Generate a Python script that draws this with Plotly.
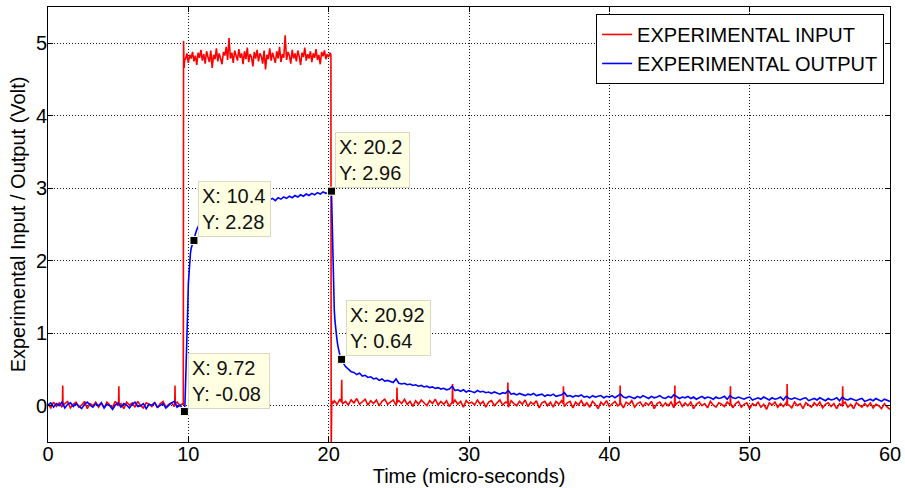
import numpy as np
import plotly.graph_objects as go

# ---------------- data ----------------

# EXPERIMENTAL INPUT (red)
in_low1_start, in_low1_step = 0.0, 0.2
in_low1 = [0.02, -0.03, 0.05, -0.01, 0.04, -0.02, 0.03, 0.06, -0.03, 0.02,
           0.05, -0.02, 0.01, 0.06, -0.04, 0.03, 0.00, 0.05, -0.02, 0.04,
           -0.03, 0.05, 0.01, -0.02, 0.06, 0.00, 0.03, -0.04, 0.05, 0.01,
           0.04, -0.02, 0.06, 0.00, -0.03, 0.04, 0.02, -0.01, 0.05, -0.03,
           0.03, 0.06, -0.02, 0.02, 0.04, -0.01, 0.05, 0.00, 0.03]
in_rise_t = [9.64, 9.66, 9.70, 9.74]
in_rise_v = [0.01, 5.03, 4.66, 4.78]
in_high_start, in_high_step = 9.8, 0.1
in_high = [4.78, 4.86, 4.73, 4.84, 4.79, 4.88, 4.75, 4.83, 4.70, 4.87,
           4.80, 4.91, 4.76, 4.85, 4.72, 4.89, 4.81, 4.74, 4.90, 4.66,
           4.84, 4.78, 4.93, 4.75, 4.86, 4.80, 4.71, 4.88, 4.83, 4.95,
           4.77, 5.07, 4.79, 4.87, 4.73, 4.90, 4.82, 4.76, 4.92, 4.80,
           4.86, 4.71, 4.89, 4.78, 4.94, 4.74, 4.85, 4.81, 4.68, 4.88,
           4.79, 4.91, 4.75, 4.86, 4.82, 4.72, 4.90, 4.64, 4.84, 4.78,
           4.93, 4.76, 4.87, 4.81, 4.73, 4.89, 4.79, 4.95, 4.74, 4.85,
           4.80, 5.11, 4.77, 4.88, 4.83, 4.72, 4.91, 4.79, 4.86, 4.75,
           4.90, 4.82, 4.70, 4.87, 4.81, 4.94, 4.76, 4.85, 4.79, 4.89,
           4.74, 4.86, 4.80, 4.92, 4.77, 4.84, 4.71, 4.88, 4.82, 4.90,
           4.78, 4.85, 4.81, 4.87]
in_fall_t = [20.16, 20.18, 20.22, 20.3]
in_fall_v = [4.84, -0.6, 0.07, 0.03]
in_low2_start, in_low2_step = 20.4, 0.2
in_low2 = [0.07, 0.02, 0.09, 0.03, 0.06, 0.01, 0.08, 0.04, 0.10, 0.02,
           0.06, 0.09, 0.01, 0.07, 0.03, 0.08, 0.00, 0.06, 0.09, 0.02,
           0.05, 0.08, 0.01, 0.07, 0.03, 0.09, 0.02, 0.06, -0.01, 0.07,
           0.02, 0.08, 0.04, 0.00, 0.07, 0.03, 0.09, 0.01, 0.06, 0.02,
           0.07, -0.01, 0.05, 0.08, 0.02, 0.06, -0.02, 0.07, 0.03, 0.05,
           0.01, 0.08, 0.02, 0.06, -0.02, 0.05, 0.07, 0.00, 0.04, 0.08,
           0.01, 0.05, -0.02, 0.07, 0.03, 0.00, 0.06, 0.02, 0.08, -0.01,
           0.05, 0.02, 0.07, -0.03, 0.04, 0.06, 0.00, 0.05, -0.02, 0.06,
           0.02, 0.07, -0.01, 0.04, 0.06, -0.03, 0.05, 0.01, 0.07, 0.00,
           0.04, -0.02, 0.06, 0.02, -0.04, 0.05, 0.01, 0.07, -0.01, 0.03,
           0.06, 0.00, 0.04, -0.03, 0.05, 0.02, 0.07, -0.02, 0.03, 0.05,
           -0.01, 0.04, 0.01, 0.06, -0.04, 0.03, 0.05, -0.01, 0.04, 0.00,
           0.05, -0.03, 0.03, 0.06, -0.01, 0.04, 0.00, 0.05, -0.04, 0.02,
           0.05, 0.00, 0.03, -0.03, 0.06, 0.01, -0.02, 0.04, 0.02, -0.01,
           0.05, 0.01, -0.03, 0.03, 0.06, -0.02, 0.02, 0.04, -0.04, 0.03,
           0.00, 0.05, -0.02, 0.02, -0.05, 0.04, 0.01, 0.05, -0.02, 0.03,
           -0.01, 0.04, 0.01, -0.03, 0.05, 0.00, 0.03, -0.04, 0.04, 0.01,
           -0.02, 0.04, 0.00, 0.05, -0.03, 0.02, 0.04, -0.01, 0.03, -0.04,
           0.03, 0.00, 0.05, -0.02, 0.02, -0.04, 0.04, 0.01, -0.02, 0.03,
           -0.01, 0.04, -0.03, 0.02, 0.00, -0.04, 0.03, -0.02, -0.05]
# narrow glitches on the input (time, value)
in_spike_t = [1.03, 1.05, 1.07, 5.03, 5.05, 5.07, 9.03, 9.05, 9.07,
              20.91, 20.93, 20.95, 24.85, 24.87, 24.89, 28.81, 28.83, 28.85,
              32.75, 32.77, 32.79, 36.71, 36.73, 36.75, 40.75, 40.77, 40.79,
              44.65, 44.67, 44.69, 48.61, 48.63, 48.65, 52.65, 52.67, 52.69,
              56.61, 56.63, 56.65]
in_spike_v = [0.02, 0.28, 0.01, 0.03, 0.27, 0.00, 0.02, 0.28, 0.03,
              0.05, 0.36, 0.06, 0.04, 0.25, 0.05, 0.05, 0.30, 0.03,
              0.04, 0.32, 0.02, 0.03, 0.27, 0.04, 0.02, 0.28, 0.03,
              0.03, 0.28, 0.01, 0.02, 0.27, 0.03, 0.02, 0.30, 0.01,
              0.01, 0.27, 0.02]

# EXPERIMENTAL OUTPUT (blue)
out_low1_start, out_low1_step = 0.0, 0.2
out_low1 = [0.01, 0.04, -0.02, 0.03, 0.00, 0.05, -0.03, 0.02, 0.04, -0.01,
            0.03, 0.00, -0.04, 0.02, 0.05, 0.01, -0.02, 0.03, 0.00, 0.04,
            -0.03, 0.02, 0.00, -0.05, 0.01, 0.04, -0.02, 0.03, 0.01, -0.03,
            0.02, 0.05, -0.01, 0.00, 0.03, -0.04, 0.02, 0.01, 0.04, -0.02,
            0.00, 0.03, -0.03, 0.01, 0.04, 0.06, -0.02, 0.01, -0.04]
out_rise_t = [9.68, 9.72, 9.76, 9.8, 9.84, 9.88, 9.92, 9.96, 10.0, 10.05,
              10.1, 10.15, 10.2, 10.3, 10.4, 10.5, 10.6, 10.7, 10.8]
out_rise_v = [-0.03, -0.08, 0.02, 0.25, 0.45, 0.62, 0.95, 1.35, 1.68, 1.88,
              2.01, 2.10, 2.17, 2.24, 2.28, 2.36, 2.43, 2.47, 2.50]
out_high_start, out_high_step = 11.0, 0.2
out_high = [2.53, 2.56, 2.55, 2.60, 2.58, 2.63, 2.61, 2.66, 2.64, 2.68,
            2.70, 2.68, 2.73, 2.71, 2.75, 2.74, 2.77, 2.75, 2.79, 2.77,
            2.81, 2.79, 2.83, 2.81, 2.84, 2.86, 2.83, 2.87, 2.85, 2.88,
            2.86, 2.89, 2.87, 2.90, 2.88, 2.91, 2.89, 2.92, 2.90, 2.93,
            2.91, 2.94, 2.92, 2.95, 2.93, 2.94]
out_fall_t = [20.1, 20.2, 20.24, 20.28, 20.32, 20.36, 20.4, 20.45, 20.5, 20.58,
              20.66, 20.74, 20.82, 20.92, 21.0, 21.1, 21.2, 21.3]
out_fall_v = [2.94, 2.96, 2.55, 2.05, 1.78, 1.52, 1.32, 1.17, 1.05, 0.93,
              0.82, 0.74, 0.68, 0.64, 0.60, 0.57, 0.54, 0.52]
out_low2_start, out_low2_step = 21.4, 0.2
out_low2 = [0.50, 0.47, 0.46, 0.43, 0.45, 0.41, 0.42, 0.39, 0.40, 0.37,
            0.38, 0.35, 0.37, 0.34, 0.35, 0.33, 0.32, 0.37, 0.31, 0.30,
            0.31, 0.29, 0.30, 0.28, 0.29, 0.27, 0.28, 0.26, 0.27, 0.25,
            0.26, 0.24, 0.25, 0.23, 0.24, 0.22, 0.23, 0.27, 0.21, 0.22,
            0.20, 0.22, 0.19, 0.21, 0.20, 0.18, 0.21, 0.19, 0.20, 0.18,
            0.19, 0.17, 0.19, 0.18, 0.16, 0.18, 0.17, 0.21, 0.16, 0.17,
            0.15, 0.17, 0.16, 0.14, 0.16, 0.15, 0.17, 0.14, 0.15, 0.16,
            0.13, 0.15, 0.14, 0.16, 0.13, 0.14, 0.15, 0.18, 0.13, 0.14,
            0.12, 0.14, 0.13, 0.15, 0.12, 0.13, 0.11, 0.14, 0.12, 0.13,
            0.14, 0.11, 0.13, 0.12, 0.14, 0.11, 0.13, 0.16, 0.12, 0.11,
            0.13, 0.12, 0.10, 0.13, 0.11, 0.14, 0.12, 0.10, 0.13, 0.11,
            0.12, 0.14, 0.11, 0.10, 0.13, 0.11, 0.15, 0.12, 0.10, 0.12,
            0.11, 0.13, 0.10, 0.12, 0.09, 0.11, 0.13, 0.10, 0.12, 0.11,
            0.09, 0.12, 0.10, 0.11, 0.13, 0.09, 0.14, 0.11, 0.10, 0.12,
            0.10, 0.09, 0.11, 0.12, 0.08, 0.10, 0.11, 0.09, 0.12, 0.10,
            0.08, 0.11, 0.09, 0.10, 0.12, 0.08, 0.13, 0.10, 0.09, 0.11,
            0.09, 0.08, 0.10, 0.11, 0.07, 0.09, 0.10, 0.08, 0.11, 0.09,
            0.07, 0.10, 0.08, 0.09, 0.11, 0.07, 0.12, 0.09, 0.08, 0.10,
            0.08, 0.07, 0.09, 0.10, 0.06, 0.08, 0.09, 0.07, 0.10, 0.08,
            0.06, 0.09, 0.07, 0.06]

# data tips
tip_x = [9.72, 10.4, 20.2, 20.92]
tip_y = [-0.08, 2.28, 2.96, 0.64]

x_ticks = [0, 10, 20, 30, 40, 50, 60]
y_ticks = [0, 1, 2, 3, 4, 5]
series_names = ["EXPERIMENTAL INPUT", "EXPERIMENTAL OUTPUT"]


def seg(start, step, vals):
    return list(np.round(start + step * np.arange(len(vals)), 3))


def merged(ts, vs):
    ts = np.asarray(ts, float)
    vs = np.asarray(vs, float)
    order = np.argsort(ts, kind="stable")
    return ts[order], vs[order]


in_t, in_v = merged(
    seg(in_low1_start, in_low1_step, in_low1) + in_rise_t
    + seg(in_high_start, in_high_step, in_high) + in_fall_t
    + seg(in_low2_start, in_low2_step, in_low2) + in_spike_t,
    in_low1 + in_rise_v + in_high + in_fall_v + in_low2 + in_spike_v)
out_t, out_v = merged(
    seg(out_low1_start, out_low1_step, out_low1) + out_rise_t
    + seg(out_high_start, out_high_step, out_high) + out_fall_t
    + seg(out_low2_start, out_low2_step, out_low2),
    out_low1 + out_rise_v + out_high + out_fall_v + out_low2)

FONT = "Arial, 'Liberation Sans', sans-serif"

fig = go.Figure()
fig.add_trace(go.Scatter(x=in_t, y=in_v, mode="lines", name=series_names[0],
                         line=dict(color="#FF0000", width=1.6)))
fig.add_trace(go.Scatter(x=out_t, y=out_v, mode="lines", name=series_names[1],
                         line=dict(color="#0000FF", width=1.6)))
fig.add_trace(go.Scatter(x=tip_x, y=tip_y, mode="markers", showlegend=False,
                         marker=dict(symbol="square", size=8, color="black",
                                     line=dict(color="#FFFFE1", width=1))))

box_w = [74, 65, 67, 77]
for x, y, w in zip(tip_x, tip_y, box_w):
    fig.add_annotation(x=x, y=y, xref="x", yref="y", showarrow=False,
                       text=f"X: {x:g}<br>Y: {y:g}", align="left",
                       xanchor="left", yanchor="bottom", xshift=4, yshift=3,
                       width=w,
                       font=dict(family=FONT, size=20, color="#111"),
                       bgcolor="#FFFFE1", bordercolor="#D9D9C6", borderwidth=1,
                       borderpad=3)

axis_common = dict(showline=True, linecolor="black", linewidth=1, mirror="ticks",
                   ticks="inside", ticklen=5, tickcolor="black", tickwidth=1,
                   showgrid=True, gridcolor="#1a1a1a", gridwidth=1, griddash="1px,2px",
                   zeroline=False, tickfont=dict(family=FONT, size=20, color="black"),
                   automargin=False)

fig.update_layout(
    width=905, height=488,
    margin=dict(l=48, r=15, t=7, b=46),
    paper_bgcolor="white", plot_bgcolor="white",
    font=dict(family=FONT, size=20, color="black"),
    showlegend=True,
    legend=dict(x=0.993, y=0.984, xanchor="right", yanchor="top",
                bgcolor="white", bordercolor="black", borderwidth=1,
                font=dict(family=FONT, size=20, color="black"),
                tracegroupgap=0, itemwidth=30),
    xaxis=dict(range=[0, 60], tickvals=x_ticks, ticklabelstandoff=-6,
               title=dict(text="Time (micro-seconds)", standoff=2,
                          font=dict(family=FONT, size=20)),
               **axis_common),
    yaxis=dict(range=[-0.5, 5.5], tickvals=y_ticks, ticklabelstandoff=-4,
               title=dict(text="Experimental Input / Output (Volt)", standoff=4,
                          font=dict(family=FONT, size=20)),
               **axis_common),
)

fig.write_html("out.html", config={"displayModeBar": False},
               post_script="document.body.style.margin='0px';document.body.style.overflow='hidden';")
